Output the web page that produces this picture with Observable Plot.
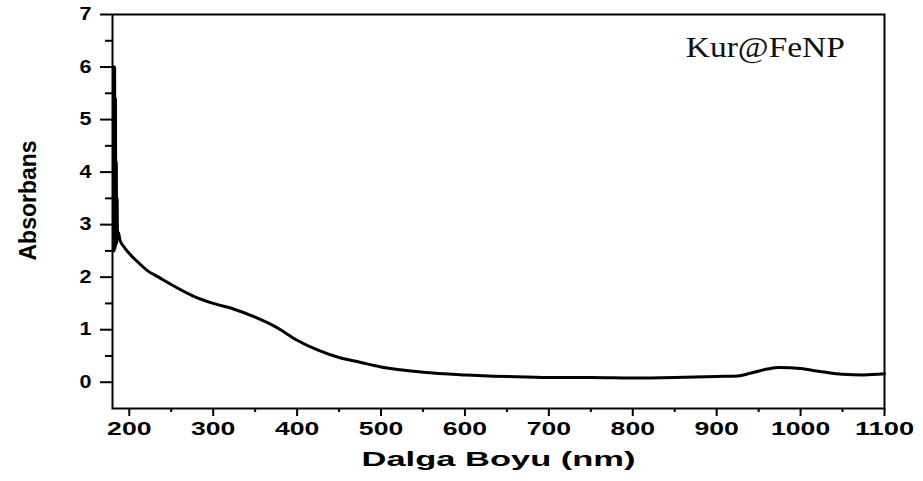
<!DOCTYPE html>
<html>
<head>
<meta charset="utf-8">
<script src="https://cdn.jsdelivr.net/npm/d3@7"></script>
<script src="https://cdn.jsdelivr.net/npm/@observablehq/plot@0.6"></script>
<style>
  html, body { margin: 0; padding: 0; background: #fff; }
  #chart svg { display: block; }
</style>
</head>
<body>
<div id="chart"></div>
<script>
// Wavelength (nm) and absorbance
const wavelength = [181.5, 182, 182.5, 183, 183.5, 184, 184.5, 185, 185.5, 186, 187, 189, 195, 200, 210, 222, 235, 250, 275, 300, 325, 350, 375, 400, 425, 450, 475, 500, 550, 600, 650, 700, 750, 800, 850, 900, 925, 940, 960, 975, 1000, 1025, 1050, 1075, 1100];
const absorbance = [6.0, 2.5, 6.0, 2.55, 5.4, 2.6, 4.2, 2.65, 3.5, 2.8, 2.85, 2.7, 2.55, 2.45, 2.29, 2.12, 2.0, 1.86, 1.65, 1.50, 1.39, 1.24, 1.05, 0.80, 0.61, 0.47, 0.38, 0.29, 0.19, 0.14, 0.11, 0.09, 0.09, 0.08, 0.09, 0.11, 0.12, 0.17, 0.25, 0.28, 0.26, 0.20, 0.15, 0.14, 0.16];

const xTicks = [200, 300, 400, 500, 600, 700, 800, 900, 1000, 1100];
const xMinorTicks = [250, 350, 450, 550, 650, 750, 850, 950, 1050];
const yTicks = [0, 1, 2, 3, 4, 5, 6, 7];
const yMinorTicks = [0.5, 1.5, 2.5, 3.5, 4.5, 5.5, 6.5];

const xLabel = "Dalga Boyu (nm)";
const yLabel = "Absorbans";
const sampleLabel = ["Kur@FeNP"];

const data = wavelength.map((w, i) => ({w, a: absorbance[i]}));

const tickFont = "'Liberation Sans', Arial, sans-serif";

const chart = Plot.plot({
  width: 923,
  height: 481,
  marginLeft: 112,
  marginRight: 39,
  marginTop: 14,
  marginBottom: 73,
  style: {background: "#fff", color: "#000"},
  x: {domain: [180, 1100]},
  y: {domain: [-0.5, 7]},
  marks: [
    Plot.axisX(xTicks, {tickSize: 8, tickPadding: 5, strokeWidth: 2, fontSize: 19, fontWeight: "bold", fontFamily: tickFont, tickFormat: d => String(d), label: null}),
    Plot.axisX(xMinorTicks, {tickSize: 4, strokeWidth: 2, tickFormat: () => "", label: null}),
    Plot.axisY(yTicks, {tickSize: 12, tickPadding: 9, strokeWidth: 2, fontSize: 18, fontWeight: "bold", fontFamily: tickFont, tickFormat: d => String(d), label: null}),
    Plot.axisY(yMinorTicks, {tickSize: 7, strokeWidth: 2, tickFormat: () => "", label: null}),
    Plot.frame({strokeWidth: 2}),
    Plot.line(data, {x: "w", y: "a", curve: "monotone-x", strokeWidth: 3, stroke: "#000"}),
    Plot.text(sampleLabel, {x: 958, y: 6.37, text: d => d, fontSize: 30, fontFamily: "'Liberation Serif', 'Times New Roman', serif", fill: "#111"}),
    Plot.text([xLabel], {frameAnchor: "bottom", dy: 57, text: d => d, fontSize: 21, fontWeight: "bold", fontFamily: tickFont}),
    Plot.text([yLabel], {x: 80, y: 3.46, rotate: -90, text: d => d, fontSize: 23, fontWeight: "bold", fontFamily: tickFont, clip: false})
  ]
});

document.getElementById("chart").appendChild(chart);

// Stretch text horizontally to match the reference's wide lettering
const svg = d3.select(chart);
svg.selectAll("g[aria-label='x-axis tick label'] text").each(function() {
  const t = this.textContent;
  if (t) d3.select(this).attr("textLength", t.length * 14.8).attr("lengthAdjust", "spacingAndGlyphs");
});
svg.selectAll("g[aria-label='y-axis tick label'] text").each(function() {
  const t = this.textContent;
  if (t) d3.select(this).attr("textLength", t.length * 12).attr("lengthAdjust", "spacingAndGlyphs");
});
svg.selectAll("text").each(function() {
  const t = this.textContent;
  if (t === xLabel) d3.select(this).attr("textLength", 274).attr("lengthAdjust", "spacingAndGlyphs");
  if (t === sampleLabel[0]) d3.select(this).attr("textLength", 159).attr("lengthAdjust", "spacingAndGlyphs");
});
</script>
</body>
</html>
